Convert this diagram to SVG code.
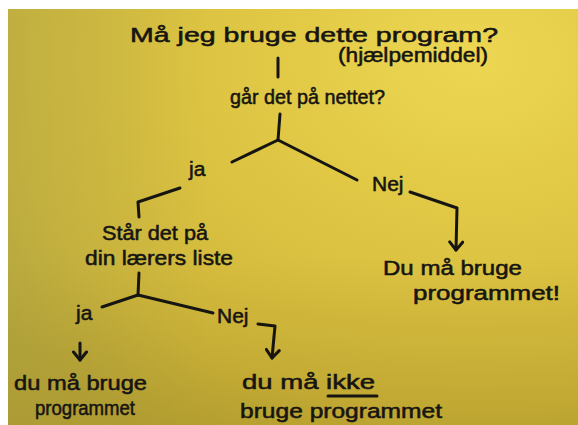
<svg xmlns="http://www.w3.org/2000/svg" width="578" height="425" viewBox="0 0 578 425">
<style>
.t{font-family:"Liberation Sans","DejaVu Sans",sans-serif;fill:#161512;stroke:#161512;stroke-width:0.55;font-size:21px}
.c{fill:none;stroke:#161512;stroke-width:3;stroke-linecap:round;stroke-linejoin:round}
</style>
<defs>
<radialGradient id="bg" cx="0.82" cy="0.12" r="1.05">
<stop offset="0" stop-color="#EDD752"/>
<stop offset="0.45" stop-color="#DDC442"/>
<stop offset="0.8" stop-color="#CFB63A"/>
<stop offset="1" stop-color="#BCA836"/>
</radialGradient>
<linearGradient id="shade" x1="0" y1="0" x2="1" y2="0">
<stop offset="0" stop-color="#A9A44A" stop-opacity="0.4"/>
<stop offset="0.35" stop-color="#A9A44A" stop-opacity="0"/>
<stop offset="1" stop-color="#A08A20" stop-opacity="0"/>
</linearGradient>
<linearGradient id="shade2" x1="0" y1="0" x2="0" y2="1">
<stop offset="0.6" stop-color="#9A8220" stop-opacity="0"/>
<stop offset="1" stop-color="#9A8220" stop-opacity="0.3"/>
</linearGradient>
<marker id="arr" viewBox="-10 -8 12 16" refX="0" refY="0" markerWidth="12" markerHeight="16" markerUnits="userSpaceOnUse" orient="auto">
<path d="M-8,-6.5 L0,0 L-8,6.5" fill="none" stroke="#161512" stroke-width="3" stroke-linecap="round" stroke-linejoin="round"/>
</marker>
</defs>
<rect width="578" height="425" fill="#ffffff"/>
<rect x="8" y="9" width="570" height="416" fill="url(#bg)"/>
<rect x="8" y="9" width="570" height="416" fill="url(#shade)"/>
<rect x="8" y="9" width="570" height="416" fill="url(#shade2)"/>

<g id="connectors">
<path class="c" d="M278,58 L278,77"/>
<path class="c" d="M280,114 L278,140"/>
<path class="c" d="M278,140 L232,162"/>
<path class="c" d="M278,140 L357,180"/>
<path class="c" d="M180,188 L138,202 L139,217"/>
<path class="c" d="M410,192 L457,208 L456,250" marker-end="url(#arr)"/>
<path class="c" d="M139,273 L138,295"/>
<path class="c" d="M138,295 L102,307"/>
<path class="c" d="M138,295 L213,313"/>
<path class="c" d="M80,343 L80,360" marker-end="url(#arr)"/>
<path class="c" d="M258,324 L275,326 L272,358" marker-end="url(#arr)"/>
</g>

<g id="q1">
<text class="t" x="130" y="42" font-size="27" textLength="368" lengthAdjust="spacingAndGlyphs">Må jeg bruge dette program?</text>
<text class="t" x="338" y="62" font-size="20" textLength="150" lengthAdjust="spacingAndGlyphs">(hjælpemiddel)</text>
</g>
<g id="q2">
<text class="t" x="230" y="104" font-size="23" textLength="155" lengthAdjust="spacingAndGlyphs">går det på nettet?</text>
</g>
<g id="ja1"><text class="t" x="189" y="176" font-size="23">ja</text></g>
<g id="nej1"><text class="t" x="372" y="191" font-size="21">Nej</text></g>
<g id="q3">
<text class="t" x="102" y="240" textLength="106" lengthAdjust="spacingAndGlyphs">Står det på</text>
<text class="t" x="85" y="265" textLength="148" lengthAdjust="spacingAndGlyphs">din lærers liste</text>
</g>
<g id="a1">
<text class="t" x="383" y="275" font-size="22" textLength="139" lengthAdjust="spacingAndGlyphs">Du må bruge</text>
<text class="t" x="413" y="300" font-size="22" textLength="147" lengthAdjust="spacingAndGlyphs">programmet!</text>
</g>
<g id="ja2"><text class="t" x="76" y="320">ja</text></g>
<g id="nej2"><text class="t" x="217" y="323" font-size="19">Nej</text></g>
<g id="a2">
<text class="t" x="14" y="390" font-size="23" textLength="133" lengthAdjust="spacingAndGlyphs">du må bruge</text>
<text class="t" x="35" y="415" font-size="23" textLength="100" lengthAdjust="spacingAndGlyphs">programmet</text>
</g>
<g id="a3">
<text class="t" x="242" y="389" font-size="23" textLength="133" lengthAdjust="spacingAndGlyphs">du må ikke</text>
<line class="c" x1="328" y1="396" x2="377" y2="396"/>
<text class="t" x="240" y="418" font-size="23" textLength="202" lengthAdjust="spacingAndGlyphs">bruge programmet</text>
</g>
</svg>
